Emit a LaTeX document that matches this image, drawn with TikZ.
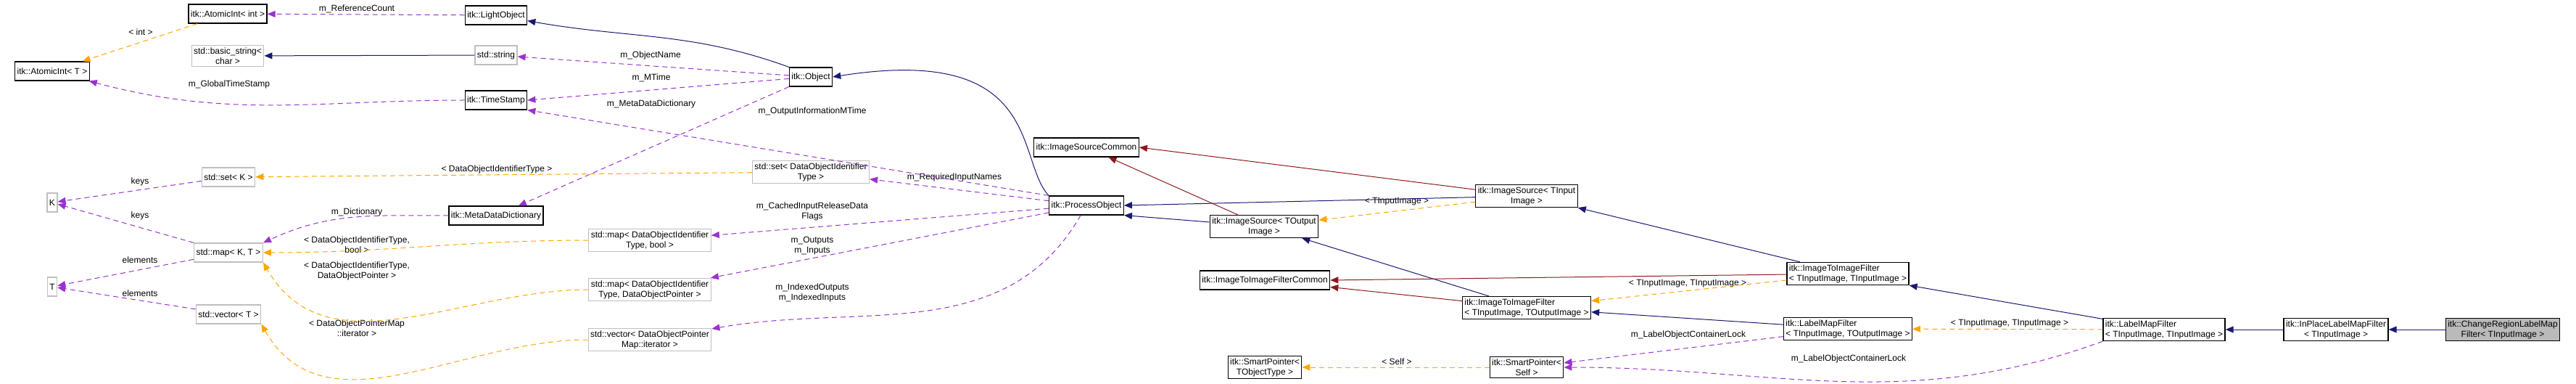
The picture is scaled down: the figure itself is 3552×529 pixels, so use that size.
\documentclass[tikz,border=0pt]{standalone}
\usepackage{fontspec}
\setmainfont{Liberation Sans}
\usetikzlibrary{arrows.meta}

\tikzset{
	cls/.style={draw=black, line width=1.2pt, fill=white, align=center, inner sep=3pt, minimum height=26pt, font=\fontsize{12}{14}\selectfont},
	ext/.style={cls, draw=black!25},
	me/.style={cls, fill=black!27},
	lbl/.style={inner sep=0pt, align=center, font=\fontsize{12}{14}\selectfont},
	tip/.style={-{Triangle[length=11pt,width=9pt]}},
	inh/.style={tip, draw=MidBlue, line width=1pt},
	prot/.style={tip, draw=FireRed, line width=1pt},
	use/.style={tip, draw=UsePurple, line width=1pt, dash pattern=on 7pt off 5pt},
	tpl/.style={tip, draw=TplOrange, line width=1pt, dash pattern=on 7pt off 5pt},
}
\definecolor{MidBlue}{HTML}{191970}
\definecolor{FireRed}{HTML}{8B1A1A}
\definecolor{UsePurple}{HTML}{9A32CD}
\definecolor{TplOrange}{HTML}{FFA500}

\begin{document}
\begin{tikzpicture}[x=1pt,y=-1pt]
	\useasboundingbox (0,0) rectangle (3552,529);
	
	\node[cls] at (314,19)(aint){itk::AtomicInt< int >};
	\node[cls] at (684,21)(light){itk::LightObject};
	\node[ext] at (314,77)(bstr){std::basic\_string<\\char >};
	\node[ext] at (684,76)(str){std::string};
	\node[cls] at (72,98)(aT){itk::AtomicInt< T >};
	\node[cls] at (684,138)(stamp){itk::TimeStamp};
	\node[ext] at (315,244)(setK){std::set< K >};
	\node[ext] at (72,279)(K){K};
	\node[cls] at (684,297)(mdd){itk::MetaDataDictionary};
	\node[ext] at (315,348)(mapKT){std::map< K, T >};
	\node[ext] at (72,395)(T){T};
	\node[ext] at (315,433)(vecT){std::vector< T >};
	
	\node[ext] at (896,331)(mapB){std::map< DataObjectIdentifier\\Type, bool >};
	\node[ext] at (896,399)(mapP){std::map< DataObjectIdentifier\\Type, DataObjectPointer >};
	\node[ext] at (896,468)(vecP){std::vector< DataObjectPointer\\Map::iterator >};
	\node[cls] at (1118,106)(obj){itk::Object};
	\node[ext] at (1118,237)(setD){std::set< DataObjectIdentifier\\Type >};
	\node[cls] at (1498,283)(po){itk::ProcessObject};
	\node[cls] at (1498,203)(isc){itk::ImageSourceCommon};
	\node[cls] at (1743,312)(isO){itk::ImageSource< TOutput\\Image >};
	\node[cls] at (1744,386)(iifc){itk::ImageToImageFilterCommon};
	\node[cls] at (1744,506)(spT){itk::SmartPointer<\\TObjectType >};
	
	\node[cls] at (2105,270)(isI){itk::ImageSource< TInput\\Image >};
	\node[cls, align=left] at (2105,424)(iifO){itk::ImageToImageFilter\\< TInputImage, TOutputImage >};
	\node[cls, align=left] at (2548,377)(iifI){itk::ImageToImageFilter\\< TInputImage, TInputImage >};
	\node[cls, align=left] at (2548,453)(lmfO){itk::LabelMapFilter\\< TInputImage, TOutputImage >};
	\node[cls] at (2105,506)(spS){itk::SmartPointer<\\Self >};
	\node[cls, align=left] at (2984,454)(lmfI){itk::LabelMapFilter\\< TInputImage, TInputImage >};
	\node[cls] at (3221,454)(inpl){itk::InPlaceLabelMapFilter\\< TInputImage >};
	\node[me] at (3451,454)(crlm){itk::ChangeRegionLabelMap\\Filter< TInputImage >};
	
	% labels
	\node[lbl] at (492,12)(l1){m\_ReferenceCount};
	\node[lbl] at (194,44)(l2){< int >};
	\node[lbl] at (316,116)(l3){m\_GlobalTimeStamp};
	\node[lbl] at (193,250)(l4){keys};
	\node[lbl] at (193,297)(l5){keys};
	\node[lbl] at (193,358)(l6){elements};
	\node[lbl] at (193,404)(l7){elements};
	\node[lbl] at (685,233)(l8){< DataObjectIdentifierType >};
	\node[lbl] at (492,292)(l9){m\_Dictionary};
	\node[lbl] at (492,337)(l10){< DataObjectIdentifierType,\\bool >};
	\node[lbl] at (492,373)(l11){< DataObjectIdentifierType,\\DataObjectPointer >};
	\node[lbl] at (492,452)(l12){< DataObjectPointerMap\\::iterator >};
	\node[lbl] at (897,76)(l13){m\_ObjectName};
	\node[lbl] at (898,107)(l14){m\_MTime};
	\node[lbl] at (898,143)(l15){m\_MetaDataDictionary};
	\node[lbl] at (1120,153)(l16){m\_OutputInformationMTime};
	\node[lbl] at (1316,244)(l17){m\_RequiredInputNames};
	\node[lbl] at (1120,291)(l18){m\_CachedInputReleaseData\\Flags};
	\node[lbl] at (1120,339)(l19){m\_Outputs\\m\_Inputs};
	\node[lbl] at (1120,403)(l20){m\_IndexedOutputs\\m\_IndexedInputs};
	\node[lbl] at (1926,278)(l21){< TInputImage >};
	\node[lbl] at (2327,391)(l22){< TInputImage, TInputImage >};
	\node[lbl] at (2328,461)(l23){m\_LabelObjectContainerLock};
	\node[lbl] at (1926,498)(l24){< Self >};
	\node[lbl] at (2549,494)(l25){m\_LabelObjectContainerLock};
	\node[lbl] at (2771,446)(l26){< TInputImage, TInputImage >};
	
	% inheritance
	\draw[inh] (obj.north west) to[out=160,in=-10] (light);
	\draw[inh] (str) -- (bstr);
	\draw[inh] (po.north west) .. controls (1400,220) and (1440,60) .. (obj.east);
	\draw[inh] (isO) -- (po.south east);
	\draw[inh] (isI) -- (po.east);
	\draw[inh] (iifO) -- (isO);
	\draw[inh] (iifI) -- (isI.south east);
	\draw[inh] (lmfO) -- (iifO);
	\draw[inh] (lmfI) -- (iifI.south east);
	\draw[inh] (inpl) -- (lmfI);
	\draw[inh] (crlm) -- (inpl);
	\draw[prot] (isO) -- (isc);
	\draw[prot] (isI) -- (isc.east);
	\draw[prot] (iifO) -- (iifc);
	\draw[prot] (iifI) -- (iifc.east);
	
	% members
	\draw[use] (light) -- (aint);
	\draw[use] (stamp.west) to[out=180,in=-15] (aT);
	\draw[use] (obj) -- (str);
	\draw[use] (obj) -- (stamp.east);
	\draw[use] (obj.south west) -- (mdd);
	\draw[use] (mdd.west) to[out=180,in=25] (mapKT.north east);
	\draw[use] (setK) -- (K);
	\draw[use] (mapKT) -- (K);
	\draw[use] (mapKT) -- (T);
	\draw[use] (vecT) -- (T);
	\draw[use] (po.north west) -- (stamp.south east);
	\draw[use] (po) -- (setD);
	\draw[use] (po) -- (mapB);
	\draw[use] (po) -- (mapP);
	\draw[use] (po) to[out=-120,in=10] (vecP);
	\draw[use] (lmfO) -- (spS);
	\draw[use] (lmfI.south west) to[out=-160,in=0] (spS.east);
	
	% templates
	\draw[tpl] (aint) -- (aT);
	\draw[tpl] (setD) -- (setK);
	\draw[tpl] (mapB.west) to[out=180,in=0] (mapKT.east);
	\draw[tpl] (mapP.west) to[out=180,in=-60] (mapKT.south east);
	\draw[tpl] (vecP.west) to[out=180,in=-60] (vecT.south east);
	\draw[tpl] (isI) -- (isO);
	\draw[tpl] (iifI) -- (iifO);
	\draw[tpl] (lmfI) -- (lmfO);
	\draw[tpl] (spS) -- (spT);
\end{tikzpicture}
\end{document}
